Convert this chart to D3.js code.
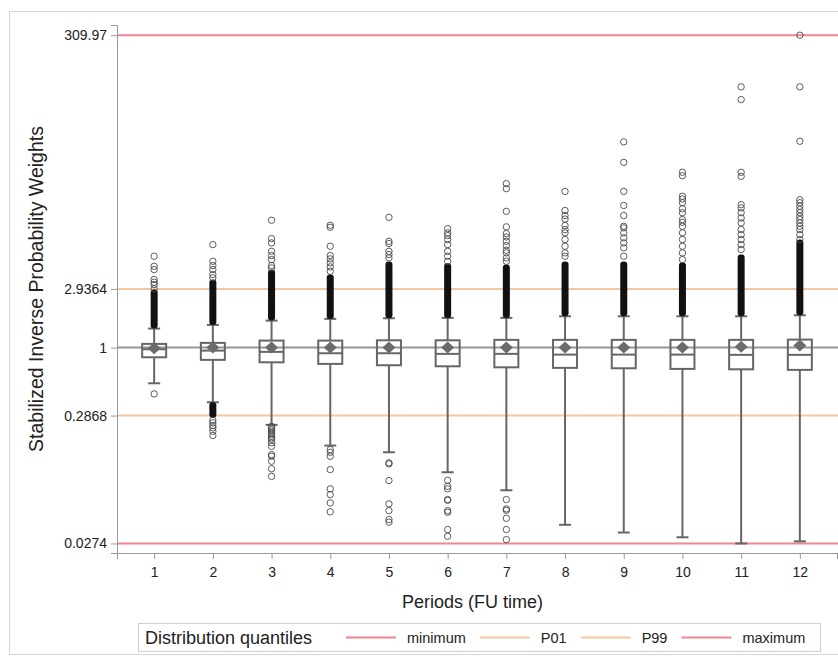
<!DOCTYPE html>
<html>
<head>
<meta charset="utf-8">
<script src="https://cdn.jsdelivr.net/npm/d3@7/dist/d3.min.js"></script>
<style>
  body { margin: 0; background: #fff; }
  text { font-family: "Liberation Sans", Arial, sans-serif; fill: #222; }
</style>
</head>
<body>
<script>
// box plot statistics per follow-up period
var periods = ["1", "2", "3", "4", "5", "6", "7", "8", "9", "10", "11", "12"];
var q1 = [0.837, 0.798, 0.763, 0.741, 0.723, 0.709, 0.696, 0.689, 0.684, 0.676, 0.671, 0.664];
var medians = [0.97, 0.946, 0.924, 0.901, 0.901, 0.891, 0.891, 0.879, 0.879, 0.879, 0.875, 0.875];
var q3 = [1.070, 1.090, 1.137, 1.137, 1.143, 1.143, 1.152, 1.152, 1.152, 1.152, 1.152, 1.158];
var means = [0.99, 1.0, 1.0, 1.0, 1.0, 1.0, 1.0, 1.0, 1.0, 1.0, 1.015, 1.04];
var whiskerLo = [0.519, 0.366, 0.242, 0.1654, 0.1462, 0.1013, 0.0728, 0.0386, 0.0335, 0.0307, 0.0274, 0.0285];
var whiskerHi = [1.418, 1.517, 1.641, 1.694, 1.713, 1.725, 1.725, 1.777, 1.777, 1.777, 1.777, 1.810];
// outliers packed so tightly they form a solid column: top of that column
var denseHiTop = [2.90, 3.49, 4.19, 3.82, 4.85, 4.7, 4.59, 4.85, 4.85, 4.77, 5.52, 7.27];
var denseLoBottom = [null, 0.276, null, null, null, null, null, null, null, null, null, null];

var highOutliers = [
  [5.35, 4.45, 4.19, 3.49, 3.32, 3.18, 2.94],
  [6.63, 4.88, 4.51, 4.19, 3.82, 3.60],
  [10.36, 7.40, 6.84, 5.86, 5.42, 5.03, 4.51, 4.32],
  [9.45, 9.11, 6.43, 5.42, 5.10, 4.74, 4.40, 4.06],
  [10.94, 7.04, 6.75, 5.86, 5.52, 5.19],
  [8.89, 8.22, 7.82, 7.27, 6.63, 5.86, 5.35, 4.88],
  [20.3, 18.5, 12.2, 9.18, 8.11, 7.63, 7.04, 6.51, 5.97, 5.69, 5.19, 4.88],
  [17.6, 12.4, 11.3, 10.6, 9.40, 8.73, 8.22, 7.27, 6.43, 5.69, 5.35],
  [43.7, 30.0, 17.6, 13.6, 11.3, 9.28, 9.01, 8.22, 7.50, 6.84, 6.24, 5.35],
  [25.0, 23.5, 16.1, 15.3, 14.3, 12.8, 11.9, 10.5, 9.98, 9.28, 8.22, 7.27, 6.43, 5.69, 5.03],
  [120, 95.0, 25.0, 23.2, 13.8, 13.0, 11.9, 10.8, 9.87, 8.73, 7.96, 7.27, 6.63, 6.05],
  [309.97, 120, 44.2, 15.1, 14.3, 13.4, 12.6, 11.9, 11.1, 10.5, 9.87, 9.28, 8.73, 7.96, 7.27]
];
var lowOutliers = [
  [0.427],
  [0.263, 0.251, 0.239, 0.229, 0.215, 0.199],
  [0.235, 0.229, 0.222, 0.216, 0.209, 0.203, 0.196, 0.190, 0.185, 0.174, 0.163, 0.140, 0.136, 0.124, 0.108, 0.094],
  [0.1537, 0.1462, 0.1359, 0.1064, 0.0747, 0.0673, 0.0577, 0.0490],
  [0.1204, 0.1182, 0.0870, 0.0567, 0.0501, 0.0425, 0.0405],
  [0.0874, 0.0783, 0.0747, 0.0614, 0.0606, 0.0501, 0.0486, 0.0354, 0.0313],
  [0.0614, 0.0517, 0.0504, 0.0435, 0.0354, 0.0294],
  [], [], [], [], []
];

// distribution quantile reference lines
var refNames = ["minimum", "P01", "P99", "maximum"];
var refValues = [0.0274, 0.2868, 2.9364, 309.97];

var yTickValues = [0.0274, 0.2868, 1, 2.9364, 309.97];
var yTickLabels = ["0.0274", "0.2868", "1", "2.9364", "309.97"];

var width = 838, height = 660;
var margin = {top: 25, right: 1, bottom: 107, left: 117};

var refColor = {minimum: "#ef8590", P01: "#f3c7a0", P99: "#f3c7a0", maximum: "#ef8590"};
var boxColor = "#666";

var svg = d3.select("body").append("svg")
    .attr("width", width)
    .attr("height", height);

// light frame around the whole graph
svg.append("rect")
    .attr("x", 9.5).attr("y", 11.5)
    .attr("width", 840).attr("height", 643)
    .attr("fill", "none").attr("stroke", "#d6d6d6");

var x = d3.scalePoint()
    .domain(periods)
    .range([margin.left, width - margin.right])
    .padding(0.633);

var y = d3.scaleLog()
    .domain([0.0230, 373.8])
    .range([height - margin.bottom, margin.top]);

// reference lines
svg.append("g").selectAll("line")
    .data(refValues)
    .enter().append("line")
      .attr("x1", margin.left).attr("x2", width)
      .attr("y1", function(d) { return y(d); })
      .attr("y2", function(d) { return y(d); })
      .attr("stroke", function(d, i) { return refColor[refNames[i]]; })
      .attr("stroke-width", 2);

svg.append("line")
    .attr("x1", margin.left).attr("x2", width)
    .attr("y1", y(1)).attr("y2", y(1))
    .attr("stroke", "#959595").attr("stroke-width", 2);

// axes
var yAxis = svg.append("g")
    .attr("transform", "translate(" + margin.left + ",0)")
    .call(d3.axisLeft(y).tickValues(yTickValues)
      .tickFormat(function(d, i) { return yTickLabels[i]; })
      .tickSizeOuter(0).tickSize(6).tickPadding(4));

var xAxis = svg.append("g")
    .attr("transform", "translate(0," + (height - margin.bottom) + ")")
    .call(d3.axisBottom(x).tickSizeOuter(0).tickSize(6).tickPadding(8));

[yAxis, xAxis].forEach(function(a) {
  a.select(".domain").attr("stroke", "#999");
  a.selectAll(".tick line").attr("stroke", "#999");
  a.selectAll(".tick text").attr("font-size", 14).attr("fill", "#222")
    .attr("font-family", "Liberation Sans, Arial, sans-serif");
});

svg.append("text")
    .attr("x", (margin.left + width) / 2 - 5)
    .attr("y", 608)
    .attr("text-anchor", "middle")
    .attr("font-size", 18)
    .text("Periods (FU time)");

svg.append("text")
    .attr("transform", "translate(43," + ((margin.top + height - margin.bottom) / 2) + ") rotate(-90)")
    .attr("text-anchor", "middle")
    .attr("font-size", 19.5)
    .text("Stabilized Inverse Probability Weights");

// box plots
var boxW = 24, capW = 12;
var g = svg.append("g");

periods.forEach(function(p, i) {
  var cx = x(p);
  var gp = g.append("g");

  // whiskers
  gp.append("line")
      .attr("x1", cx).attr("x2", cx)
      .attr("y1", y(q3[i])).attr("y2", y(whiskerHi[i]))
      .attr("stroke", boxColor).attr("stroke-width", 2);
  gp.append("line")
      .attr("x1", cx).attr("x2", cx)
      .attr("y1", y(q1[i])).attr("y2", y(whiskerLo[i]))
      .attr("stroke", boxColor).attr("stroke-width", 2);
  [whiskerHi[i], whiskerLo[i]].forEach(function(v) {
    gp.append("line")
        .attr("x1", cx - capW / 2).attr("x2", cx + capW / 2)
        .attr("y1", y(v)).attr("y2", y(v))
        .attr("stroke", boxColor).attr("stroke-width", 2);
  });

  // box
  gp.append("rect")
      .attr("x", cx - boxW / 2)
      .attr("y", y(q3[i]))
      .attr("width", boxW)
      .attr("height", y(q1[i]) - y(q3[i]))
      .attr("fill", "none")
      .attr("stroke", boxColor).attr("stroke-width", 2);
  gp.append("line")
      .attr("x1", cx - boxW / 2).attr("x2", cx + boxW / 2)
      .attr("y1", y(medians[i])).attr("y2", y(medians[i]))
      .attr("stroke", boxColor).attr("stroke-width", 2);

  // mean diamond
  var my = y(means[i]);
  gp.append("path")
      .attr("d", "M" + cx + "," + (my - 6) + "L" + (cx + 6.5) + "," + my +
                 "L" + cx + "," + (my + 6) + "L" + (cx - 6.5) + "," + my + "Z")
      .attr("fill", "#6b6b6b");

  // solid columns of overlapping outliers
  gp.append("rect")
      .attr("x", cx - 3.5)
      .attr("y", y(denseHiTop[i]))
      .attr("width", 7)
      .attr("height", y(whiskerHi[i]) - y(denseHiTop[i]))
      .attr("rx", 3)
      .attr("fill", "#111");
  if (denseLoBottom[i] != null) {
    gp.append("rect")
        .attr("x", cx - 3.5)
        .attr("y", y(whiskerLo[i]))
        .attr("width", 7)
        .attr("height", y(denseLoBottom[i]) - y(whiskerLo[i]))
        .attr("rx", 3)
        .attr("fill", "#111");
  }

  // individual outliers
  gp.selectAll("circle")
      .data(highOutliers[i].concat(lowOutliers[i]))
      .enter().append("circle")
        .attr("cx", cx)
        .attr("cy", function(d) { return y(d); })
        .attr("r", 3.2)
        .attr("fill", "none")
        .attr("stroke", "#4a4a4a")
        .attr("stroke-width", 0.9);
});

// legend
var legend = svg.append("g");
legend.append("rect")
    .attr("x", 138.5).attr("y", 623.5)
    .attr("width", 682).attr("height", 28)
    .attr("fill", "#fff").attr("stroke", "#cfcfcf");
legend.append("text")
    .attr("x", 145).attr("y", 644)
    .attr("font-size", 18)
    .text("Distribution quantiles");

var lx = 346;
refNames.forEach(function(name) {
  legend.append("line")
      .attr("x1", lx).attr("x2", lx + 50)
      .attr("y1", 637.5).attr("y2", 637.5)
      .attr("stroke", refColor[name]).attr("stroke-width", 2);
  var t = legend.append("text")
      .attr("x", lx + 61).attr("y", 643)
      .attr("font-size", 14.5)
      .text(name);
  lx = lx + 61 + t.node().getComputedTextLength() + 14;
});
</script>
</body>
</html>
